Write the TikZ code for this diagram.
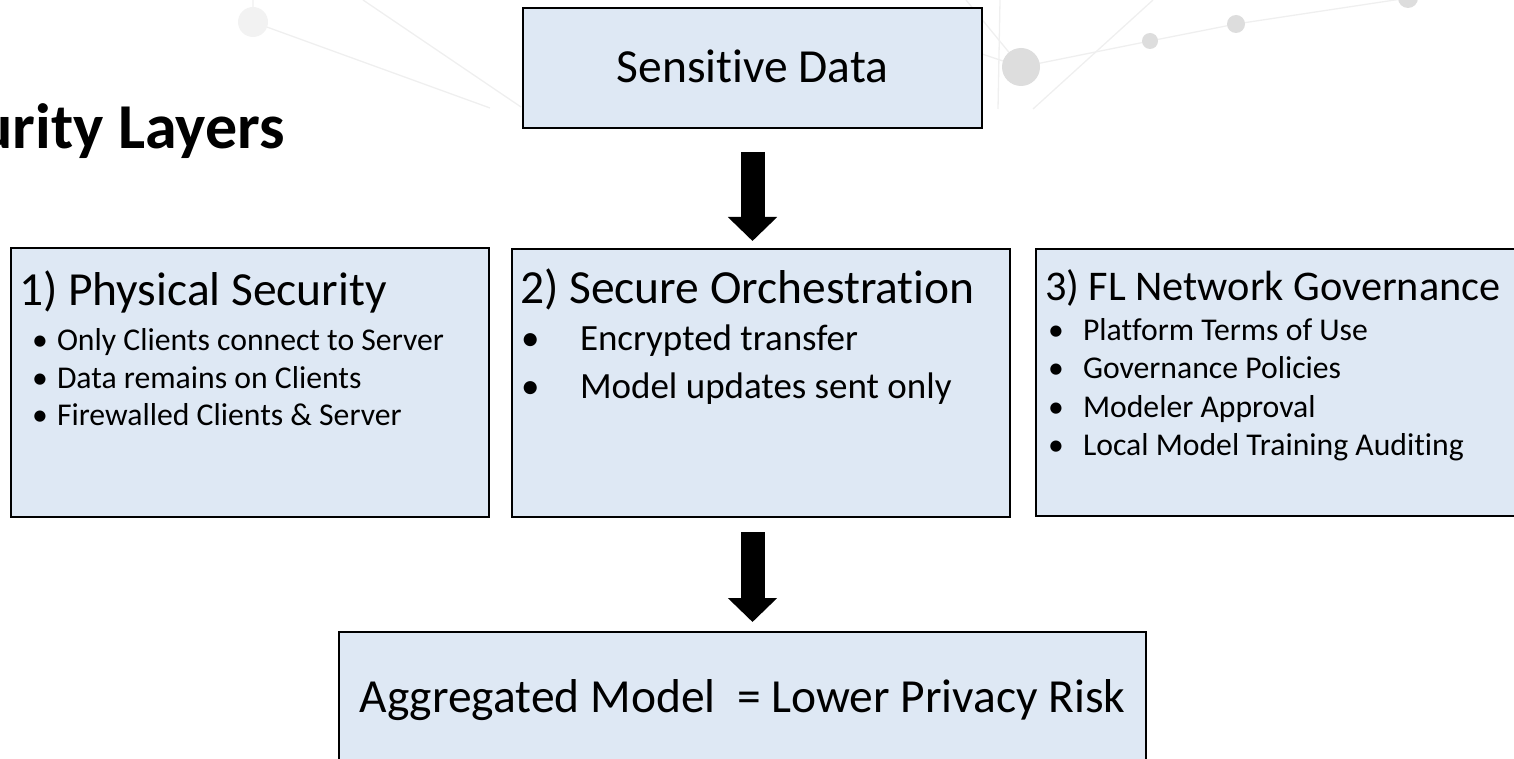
\documentclass[tikz,border=0pt]{standalone}
\usepackage{fontspec}
\setmainfont{Carlito}[Ligatures=NoCommon]
\usetikzlibrary{arrows.meta}
\definecolor{boxfill}{HTML}{DEE8F4}
\definecolor{bgline}{HTML}{EFEFEF}
\definecolor{bgdot}{HTML}{DDDDDD}
\definecolor{bgdotpale}{HTML}{F2F2F2}
\begin{document}
\begin{tikzpicture}[x=1pt,y=-1pt,
  box/.style={draw=black, line width=2pt, fill=boxfill, inner sep=0pt, outer sep=0pt},
  txt/.style={inner sep=0pt, outer sep=0pt, anchor=base west, text=black},
  big/.style={font=\fontsize{47.5}{57}\selectfont},
  mid/.style={font=\fontsize{42.3}{50}\selectfont},
  sm/.style={font=\fontsize{31.7}{38}\selectfont},
  md/.style={font=\fontsize{37}{44}\selectfont},
  flow/.style={line width=24pt, -{Triangle[length=24pt,width=48pt]}, black},
  bgl/.style={bgline, line width=1.3pt}]
\useasboundingbox (0,0) rectangle (1514,759);
\clip (0,0) rectangle (1514,759);
% background network
\draw[bgl] (253,0) -- (253,22) -- (490,108);
\draw[bgl] (363,0) -- (521,107);
\draw[bgl] (1021,67) -- (1150,41) -- (1236,24) -- (1408,-2) -- (1530,-20);
\draw[bgl] (1021,67) -- (982,54);
\draw[bgl] (966,0) -- (1021,67);
\draw[bgl] (1000,0) -- (998,109);
\draw[bgl] (1033,109) -- (1153,0);
\fill[bgdotpale] (253,22) circle[radius=15];
\fill[bgdot] (1021,67) circle[radius=19];
\fill[bgdot] (1150,41) circle[radius=8];
\fill[bgdot] (1236,24) circle[radius=9];
\fill[bgdot] (1408,-2) circle[radius=10];
% title
\node[txt, font=\fontsize{64}{76}\selectfont\bfseries, anchor=base east] (title) at (285,149) {urity Layers};
% boxes
\node[box, minimum width=459pt, minimum height=120pt] (sd) at (752.5,68) {};
\node[txt, big, anchor=base] (sdt) at (752.5,83) {Sensitive Data};
\node[box, minimum width=478pt, minimum height=269pt] (b1) at (250,382.5) {};
\node[box, minimum width=498pt, minimum height=268pt] (b2) at (761,383) {};
\node[box, minimum width=494pt, minimum height=267pt] (b3) at (1283,382.5) {};
\node[box, minimum width=807pt, minimum height=133pt] (bot) at (742.5,698.5) {};
% box 1
\node[txt, big] (t1) at (19,305) {1) Physical Security};
\node[txt, sm] (b1a) at (32,350) {•};
\node[txt, sm] (b1at) at (57,350) {Only Clients connect to Server};
\node[txt, sm] (b1b) at (32,388) {•};
\node[txt, sm] (b1bt) at (57,388) {Data remains on Clients};
\node[txt, sm] (b1c) at (32,425) {•};
\node[txt, sm] (b1ct) at (57,425) {Firewalled Clients \& Server};
% box 2
\node[txt, big] (t2) at (520,303) {2) Secure Orchestration};
\node[txt, md] (b2a) at (521,350) {•};
\node[txt, md] (b2at) at (580,350) {Encrypted transfer};
\node[txt, md] (b2b) at (521,398) {•};
\node[txt, md] (b2bt) at (580,398) {Model updates sent only};
% box 3
\node[txt, mid] (t3) at (1045,300) {3) FL Network Governance};
\node[txt, sm] (b3a) at (1048,340) {•};
\node[txt, sm] (b3at) at (1083,340) {Platform Terms of Use};
\node[txt, sm] (b3b) at (1048,378) {•};
\node[txt, sm] (b3bt) at (1083,378) {Governance Policies};
\node[txt, sm] (b3c) at (1048,417) {•};
\node[txt, sm] (b3ct) at (1083,417) {Modeler Approval};
\node[txt, sm] (b3d) at (1048,455) {•};
\node[txt, sm] (b3dt) at (1083,455) {Local Model Training Auditing};
% bottom
\node[txt, big, anchor=base] (bott) at (742.5,712) {Aggregated Model\ \ = Lower Privacy Risk};
% arrows
\draw[flow, shorten <=24pt, shorten >=8pt] (sd.south) -- (sd.south |- b2.north);
\draw[flow, shorten <=15pt, shorten >=10pt] (sd.south |- b2.south) -- (sd.south |- bot.north);
\end{tikzpicture}
\end{document}
